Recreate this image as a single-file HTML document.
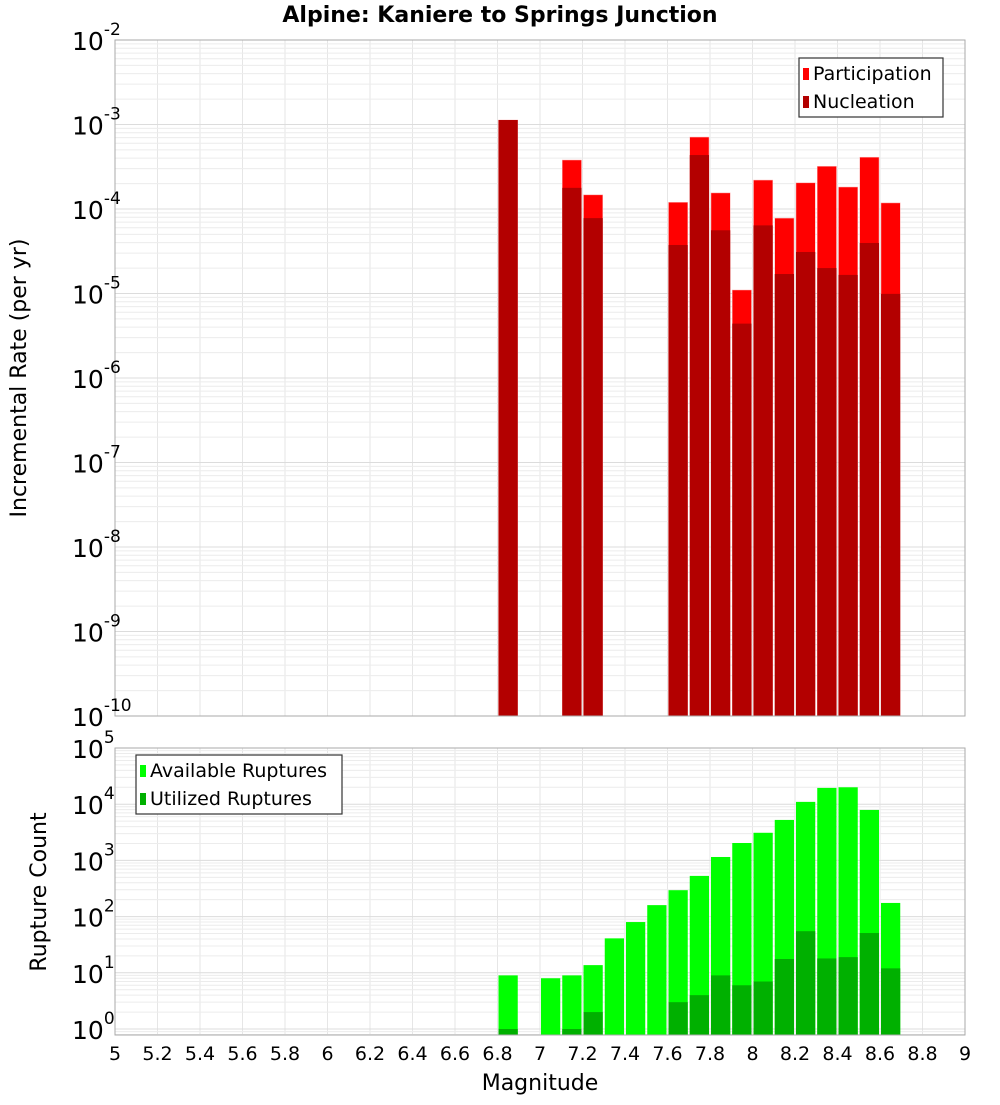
<!DOCTYPE html>
<html><head><meta charset="utf-8"><style>
body{margin:0;background:#fff;}
svg text{font-family:"DejaVu Sans","Liberation Sans",sans-serif;}
</style></head><body>
<svg id="c" width="1000" height="1100" xmlns="http://www.w3.org/2000/svg">
<text x="500" y="22" text-anchor="middle" font-size="22" font-weight="bold">Alpine: Kaniere to Springs Junction</text>
<text transform="translate(26,378) rotate(-90)" text-anchor="middle" font-size="22">Incremental Rate (per yr)</text>
<text transform="translate(46,892) rotate(-90)" text-anchor="middle" font-size="22">Rupture Count</text>
<text x="540" y="1090" text-anchor="middle" font-size="22">Magnitude</text>
</svg>
<script>
const topMags=[6.85,7.15,7.25,7.65,7.75,7.85,7.95,8.05,8.15,8.25,8.35,8.45,8.55,8.65];
const participation=[1.13e-3,3.8e-4,1.47e-4,1.2e-4,7.1e-4,1.55e-4,1.1e-5,2.2e-4,7.8e-5,2.04e-4,3.2e-4,1.82e-4,4.1e-4,1.18e-4];
const nucleation=[1.13e-3,1.78e-4,7.8e-5,3.75e-5,4.35e-4,5.6e-5,4.4e-6,6.4e-5,1.7e-5,3.1e-5,2.0e-5,1.66e-5,3.96e-5,9.9e-6];
const botMags=[6.85,7.05,7.15,7.25,7.35,7.45,7.55,7.65,7.75,7.85,7.95,8.05,8.15,8.25,8.35,8.45,8.55,8.65];
const available=[9,8,9,13.7,41,80,160,295,530,1150,2040,3100,5250,11000,19500,20000,7900,175];
const utilized=[1,0,1,2,0,0,0,3,4,9,6,7,17.6,55,18,19,51,12];
const xTicks=[5,5.2,5.4,5.6,5.8,6,6.2,6.4,6.6,6.8,7,7.2,7.4,7.6,7.8,8,8.2,8.4,8.6,8.8,9];
const xTickLabels=["5","5.2","5.4","5.6","5.8","6","6.2","6.4","6.6","6.8","7","7.2","7.4","7.6","7.8","8","8.2","8.4","8.6","8.8","9"];
const topDecades=[-10,-9,-8,-7,-6,-5,-4,-3,-2];
const botDecades=[0,1,2,3,4,5];

const svg=document.getElementById('c');const NS='http://www.w3.org/2000/svg';
function mk(t,a,p){const e=document.createElementNS(NS,t);for(const k in a)e.setAttribute(k,a[k]);(p||svg).appendChild(e);return e;}
const X0=115,X1=965;
const xs=m=>X0+(m-5)/4*(X1-X0);
const T0=40,T1=716;
const yTop=v=>T0+(-2-Math.log10(v))*(T1-T0)/8;
const B0=748,B1=1035,BZ=1029,BD=(BZ-B0)/5;
const yBot=v=>BZ-Math.log10(v)*BD;

function grid(y0,y1,decs,yf){
  const g=mk('g',{});
  
  
  xTicks.forEach(t=>mk('line',{x1:xs(t),x2:xs(t),y1:y0,y2:y1,stroke:'#e6e6e6'},g));
  decs.forEach((d,i)=>{
    for(let k=1;k<10;k++){const v=Math.pow(10,d)*k;const y=yf(v);if(y<y0-0.5||y>y1+0.5)continue;
      mk('line',{x1:X0,x2:X1,y1:y,y2:y,stroke:k==1?'#dcdcdc':'#ececec'},g);}
  });
}
grid(T0,T1,topDecades,yTop);
grid(B0,B1,botDecades.concat([-1]),yBot);

const bw=(X1-X0)/40;
topMags.forEach((m,i)=>{
  let r=mk('rect',{x:xs(m)-bw/2+1,y:yTop(participation[i]),width:bw-2,height:T1-yTop(participation[i]),fill:'#ff0000',stroke:'#ffb0b0','stroke-width':0.5});
  
  
  r=mk('rect',{x:xs(m)-bw/2+1,y:yTop(nucleation[i]),width:bw-2,height:T1-yTop(nucleation[i]),fill:'#b30000'});
  
  
});
botMags.forEach((m,i)=>{
  let r=mk('rect',{x:xs(m)-bw/2+1,y:yBot(available[i]),width:bw-2,height:B1-yBot(available[i]),fill:'#00ff00'});
  
  
  if(utilized[i]>0){
    r=mk('rect',{x:xs(m)-bw/2+1,y:yBot(utilized[i]),width:bw-2,height:B1-yBot(utilized[i]),fill:'#00b000'});
    
    
  }
});
mk('rect',{x:X0,y:T0,width:X1-X0,height:T1-T0,fill:'none',stroke:'#aaaaaa'});
mk('rect',{x:X0,y:B0,width:X1-X0,height:B1-B0,fill:'none',stroke:'#aaaaaa'});

function ylab(d,y){
  const t=mk('text',{x:72,y:y+10,'font-size':25});
  
  
  t.textContent='10';
  const s=mk('tspan',{dy:-15,'font-size':17},t);s.textContent=String(d);
}
topDecades.forEach(d=>ylab(d,yTop(Math.pow(10,d))));
botDecades.forEach(d=>ylab(d,yBot(Math.pow(10,d))));
xTicks.forEach((t,i)=>{
  const e=mk('text',{x:xs(t),y:1060,'text-anchor':'middle','font-size':19});
  
  
  e.textContent=xTickLabels[i];
});

function legend(x,y,w,items,name){
  const g=mk('g',{});
  
  
  mk('rect',{x:x,y:y,width:w,height:59,fill:'#fff',stroke:'#333','stroke-width':1.2},g);
  items.forEach((it,i)=>{
    mk('rect',{x:x+4,y:y+10+i*28,width:6,height:12,fill:it[1]},g);
    const t=mk('text',{x:x+14,y:y+22+i*28,'font-size':19},g);t.textContent=it[0];
  });
}
legend(799,58,144,[['Participation','#ff0000'],['Nucleation','#b30000']],'top-legend');
legend(136,755,206,[['Available Ruptures','#00ff00'],['Utilized Ruptures','#00b000']],'bottom-legend');
</script>
</body></html>
